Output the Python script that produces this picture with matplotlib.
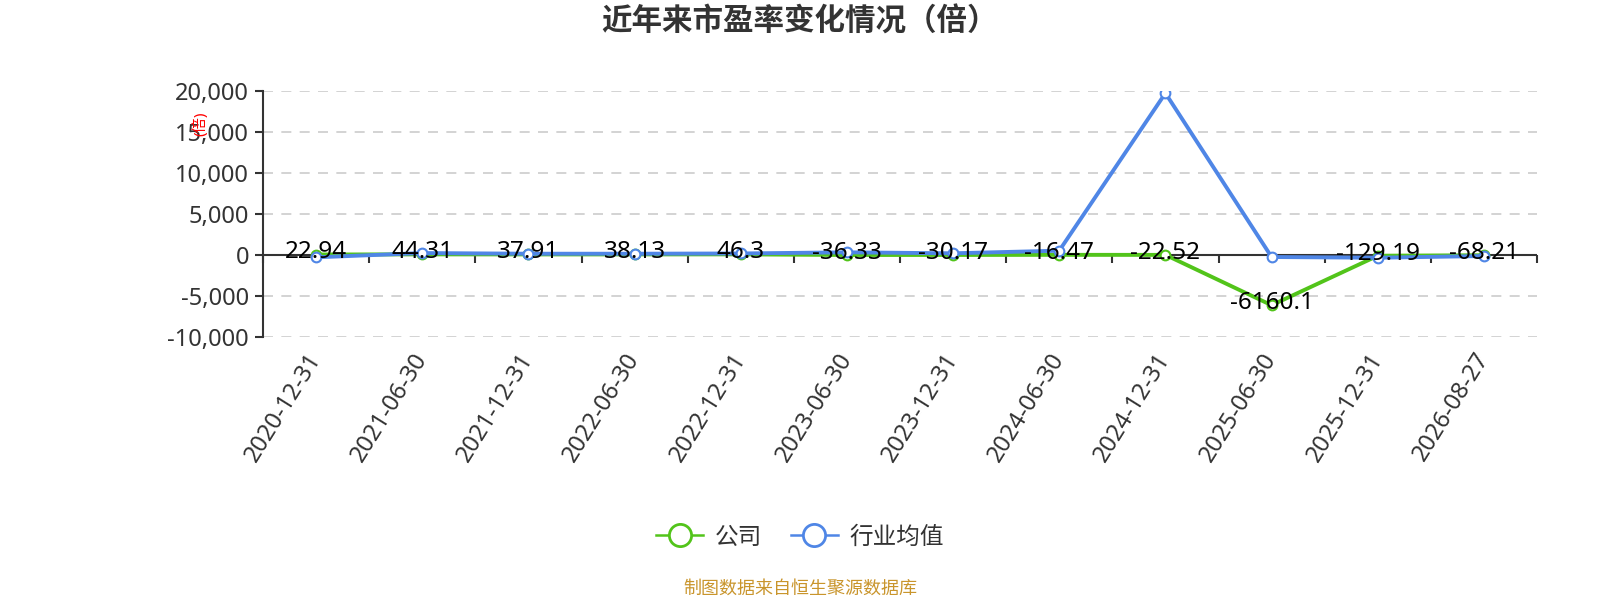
import numpy as np
import matplotlib
matplotlib.use("Agg")
from matplotlib import pyplot as plt
from matplotlib.lines import Line2D
from matplotlib.ticker import FuncFormatter

plt.rcParams['font.family'] = ['Noto Sans', 'Noto Sans CJK SC', 'DejaVu Sans']

# data
dates = ["2020-12-31", "2021-06-30", "2021-12-31", "2022-06-30", "2022-12-31", "2023-06-30",
         "2023-12-31", "2024-06-30", "2024-12-31", "2025-06-30", "2025-12-31", "2026-08-27"]
company = [22.94, 44.31, 37.91, 38.13, 46.3, -36.33, -30.17, -16.47, -22.52, -6160.1, -129.19, -68.21]
industry = [-320, 200, 120, 120, 150, 290, 170, 490, 19700, -280, -370, -160]
label_texts = ["22.94", "44.31", "37.91", "38.13", "46.3", "-36.33", "-30.17", "-16.47",
               "-22.52", "-6160.1", "-129.19", "-68.21"]
yticks = [-10000, -5000, 0, 5000, 10000, 15000, 20000]

green = '#52c41a'
blue = '#4f86e6'
dark = '#333333'

fig = plt.figure(figsize=(16, 6), dpi=100)
ax = fig.add_axes([263/1600, 1-336.7/600, (1537-263)/1600, (336.7-90.7)/600])

x = np.arange(len(dates))
ax.plot(x, company, color=green, lw=2.8, marker='o', ms=7, mfc='white', mec=green, mew=1.5, zorder=3)
ax.plot(x, industry, color=blue, lw=2.8, marker='o', ms=7, mfc='white', mec=blue, mew=1.5, zorder=4)

for i, v in enumerate(company):
    ax.annotate(label_texts[i], (x[i], v), xytext=(0, 1.5), textcoords='offset points',
                ha='center', va='center', fontsize=17.5, color='black', zorder=5)

ax.set_xlim(-0.5, len(dates)-0.5)
ax.set_ylim(-10000, 20000)
ax.set_yticks(yticks)
ax.yaxis.set_major_formatter(FuncFormatter(lambda v, p: f"{int(v):,}"))
ax.tick_params(axis='y', length=6, width=1.5, color=dark, labelcolor=dark, labelsize=17, pad=4)
ax.set_xticks(x)
ax.set_xticklabels(dates, rotation=58, ha='right', va='center', rotation_mode='anchor')
ax.tick_params(axis='x', length=0, labelcolor=dark, labelsize=17, pad=13)

for s in ['top', 'right', 'bottom']:
    ax.spines[s].set_visible(False)
ax.spines['left'].set_color(dark)
ax.spines['left'].set_linewidth(1.5)
ax.grid(axis='y', color='#cccccc', linestyle=(0, (6, 5)), linewidth=1.2)
ax.set_axisbelow(True)
ax.axhline(0, color=dark, lw=1.5, zorder=2)

# zero axis ticks at category boundaries
sec = ax.secondary_xaxis(1/3)
sec.set_xticks(np.arange(-0.5, len(dates), 1))
sec.set_xticklabels([])
sec.tick_params(axis='x', direction='out', length=6, width=1.5, color=dark)
for s in sec.spines.values():
    s.set_visible(False)

fig.text(0.5, 1-23/600, "近年来市盈率变化情况（倍）", ha='center', va='center',
         fontsize=22, fontweight='bold', color=dark)
fig.text(200/1600, 1-124/600, "(倍)", rotation=90, ha='center', va='center',
         fontsize=11, color='red')

handles = [Line2D([], [], color=green, lw=1.8, marker='o', ms=16, mfc='white', mec=green, mew=2),
           Line2D([], [], color=blue, lw=1.8, marker='o', ms=16, mfc='white', mec=blue, mew=2)]
fig.legend(handles, ["公司", "行业均值"], loc='center', bbox_to_anchor=(0.5, 1-537.7/600),
           ncol=2, frameon=False, fontsize=17, handlelength=2.0, columnspacing=1.2,
           handletextpad=0.5, labelcolor=dark)

fig.text(0.5, 1-589/600, "制图数据来自恒生聚源数据库", ha='center', va='center',
         fontsize=13, color='#c9952c')

fig.savefig("out.png", dpi=100)
